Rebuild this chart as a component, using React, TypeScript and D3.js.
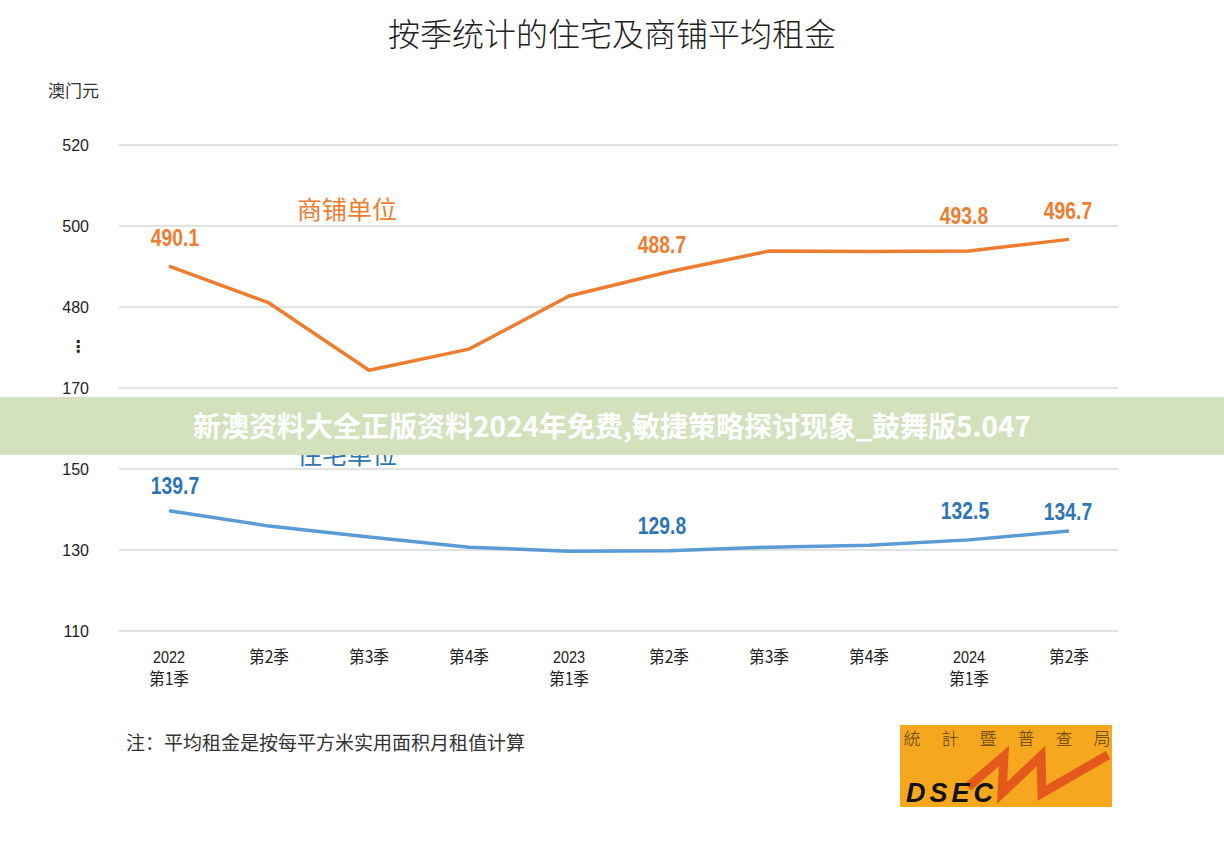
import React, { useEffect, useRef } from "react";
import * as d3 from "d3";

// quarters on the x axis (two-line labels)
const quarters: string[][] = [
  ["2022", "第1季"],
  ["第2季"],
  ["第3季"],
  ["第4季"],
  ["2023", "第1季"],
  ["第2季"],
  ["第3季"],
  ["第4季"],
  ["2024", "第1季"],
  ["第2季"],
];

const shopRent = [490.1, 481.0, 464.4, 469.6, 482.7, 488.7, 493.8, 493.7, 493.8, 496.7];
const homeRent = [139.7, 135.9, 133.2, 130.7, 129.7, 129.8, 130.7, 131.2, 132.5, 134.7];

// indices that carry a value label
const shopLabelIdx = [0, 5, 8, 9];
const homeLabelIdx = [0, 5, 8, 9];

const lowerTicks = [110, 130, 150, 170];
const upperTicks = [480, 500, 520];
// the axis is broken: shop values are shifted down by this amount
const AXIS_BREAK = 290;

const W = 1224;
const H = 852;
const CJK = '"Noto Sans CJK SC", "Noto Sans", sans-serif';
const SANS = '"Liberation Sans", Arial, sans-serif';

const App: React.FC = () => {
  const svgRef = useRef<SVGSVGElement | null>(null);

  useEffect(() => {
    if (!svgRef.current) return;
    const svg = d3.select(svgRef.current);
    svg.selectAll("*").remove();

    const x = d3
      .scaleBand<number>()
      .domain(d3.range(quarters.length))
      .range([119, 1119]);
    const xc = (i: number) => (x(i) || 0) + x.bandwidth() / 2;

    const y = d3.scaleLinear().domain([110, 230]).range([631, 145]);

    // condensed text: squeeze horizontally around its anchor
    const narrowText = (
      parent: d3.Selection<any, unknown, null, undefined>,
      tx: number,
      ty: number,
      sx: number,
    ) =>
      parent
        .append("g")
        .attr("transform", `translate(${tx},${ty}) scale(${sx},1)`)
        .append("text")
        .attr("text-anchor", "middle");

    svg.append("rect").attr("width", W).attr("height", H).attr("fill", "#fff");

    // title
    svg
      .append("text")
      .attr("x", 612)
      .attr("y", 46)
      .attr("text-anchor", "middle")
      .attr("font-family", CJK)
      .attr("font-weight", 300)
      .attr("font-size", 32)
      .attr("fill", "#222")
      .text("按季统计的住宅及商铺平均租金");

    svg
      .append("text")
      .attr("x", 48)
      .attr("y", 97)
      .attr("font-family", CJK)
      .attr("font-size", 17)
      .attr("fill", "#333")
      .text("澳门元");

    // gridlines + y labels
    const ticks = [
      ...lowerTicks.map((v) => ({ pos: v, label: String(v) })),
      ...upperTicks.map((v) => ({ pos: v - AXIS_BREAK, label: String(v) })),
    ];
    const grid = svg.append("g");
    grid
      .selectAll("line")
      .data(ticks)
      .join("line")
      .attr("x1", 119)
      .attr("x2", 1118)
      .attr("y1", (d) => y(d.pos))
      .attr("y2", (d) => y(d.pos))
      .attr("stroke", "#d9d9d9")
      .attr("stroke-width", 1.5);
    grid
      .selectAll("text")
      .data(ticks)
      .join("text")
      .attr("x", 89)
      .attr("y", (d) => y(d.pos) + 6)
      .attr("text-anchor", "end")
      .attr("font-family", SANS)
      .attr("font-size", 16)
      .attr("fill", "#222")
      .text((d) => d.label);

    // break marker
    svg
      .append("text")
      .attr("x", 78)
      .attr("y", (y(480 - AXIS_BREAK) + y(170)) / 2 + 4)
      .attr("text-anchor", "middle")
      .attr("font-family", "DejaVu Sans, sans-serif")
      .attr("font-weight", "bold")
      .attr("font-size", 16)
      .attr("fill", "#222")
      .text("⋮");

    // x labels
    const xl = svg.append("g");
    quarters.forEach((lines, i) => {
      lines.forEach((t, j) => {
        const isYear = /\d{4}/.test(t);
        narrowText(xl, xc(i), 663 + j * 22, isYear ? 0.85 : 0.92)
          .attr("font-family", isYear ? SANS : CJK)
          .attr("font-size", 17)
          .attr("fill", "#222")
          .text(t);
      });
    });

    const line = d3
      .line<number>()
      .x((_, i) => xc(i))
      .y((d) => y(d));

    svg
      .append("path")
      .attr("d", line(shopRent.map((v) => v - AXIS_BREAK)))
      .attr("fill", "none")
      .attr("stroke", "#ed7d31")
      .attr("stroke-width", 3.5)
      .attr("stroke-linejoin", "round");

    svg
      .append("path")
      .attr("d", line(homeRent))
      .attr("fill", "none")
      .attr("stroke", "#5b9bd5")
      .attr("stroke-width", 3.5)
      .attr("stroke-linejoin", "round");

    // value labels (dx, dy offsets from the point)
    const shopOff: Record<number, [number, number]> = { 0: [6, 20], 5: [-7, 19], 8: [-5, 27], 9: [-1, 20] };
    const homeOff: Record<number, [number, number]> = { 0: [6, 17], 5: [-7, 17], 8: [-4, 21], 9: [-1, 11] };
    const vl = svg.append("g");
    shopLabelIdx.forEach((i) => {
      const [dx, dy] = shopOff[i];
      narrowText(vl, xc(i) + dx, y(shopRent[i] - AXIS_BREAK) - dy, 0.84)
        .attr("font-family", SANS)
        .attr("font-weight", "bold")
        .attr("font-size", 23)
        .attr("fill", "#ed7d31")
        .text(shopRent[i].toFixed(1));
    });
    homeLabelIdx.forEach((i) => {
      const [dx, dy] = homeOff[i];
      narrowText(vl, xc(i) + dx, y(homeRent[i]) - dy, 0.84)
        .attr("font-family", SANS)
        .attr("font-weight", "bold")
        .attr("font-size", 23)
        .attr("fill", "#2e75b6")
        .text(homeRent[i].toFixed(1));
    });

    // series names
    svg
      .append("text")
      .attr("x", 297)
      .attr("y", 219)
      .attr("font-family", CJK)
      .attr("font-size", 25)
      .attr("fill", "#ed7d31")
      .text("商铺单位");
    svg
      .append("text")
      .attr("x", 297)
      .attr("y", 464)
      .attr("font-family", CJK)
      .attr("font-size", 25)
      .attr("fill", "#2e75b6")
      .text("住宅单位");

    // overlay banner
    svg
      .append("rect")
      .attr("x", 0)
      .attr("y", 397)
      .attr("width", W)
      .attr("height", 58)
      .attr("fill", "#d3e1bd");
    svg
      .append("text")
      .attr("x", 612)
      .attr("y", 437)
      .attr("text-anchor", "middle")
      .attr("font-family", CJK)
      .attr("font-weight", "bold")
      .attr("font-size", 28)
      .attr("fill", "#fff")
      .text("新澳资料大全正版资料2024年免费,敏捷策略探讨现象_鼓舞版5.047");

    // footnote
    svg
      .append("text")
      .attr("x", 126)
      .attr("y", 750)
      .attr("font-family", CJK)
      .attr("font-size", 19)
      .attr("fill", "#333")
      .text("注：平均租金是按每平方米实用面积月租值计算");

    // DSEC logo
    const logo = svg.append("g").attr("transform", "translate(900,725)");
    logo.append("rect").attr("width", 212).attr("height", 82).attr("fill", "#f5a71e");
    ["統", "計", "暨", "普", "查", "局"].forEach((c, i) => {
      logo
        .append("text")
        .attr("x", 12 + i * 38)
        .attr("y", 20)
        .attr("text-anchor", "middle")
        .attr("font-family", '"Noto Sans CJK TC", sans-serif')
        .attr("font-weight", 300)
        .attr("font-size", 17)
        .attr("fill", "#5a3a10")
        .text(c);
    });
    logo
      .append("polyline")
      .attr("points", "68,62 104,31 102,68 141,31 142,68 208,30")
      .attr("fill", "none")
      .attr("stroke", "#e4581c")
      .attr("stroke-width", 9)
      .attr("stroke-linejoin", "miter")
      .attr("stroke-miterlimit", 4);
    logo
      .append("text")
      .attr("x", 6)
      .attr("y", 77)
      .attr("font-family", SANS)
      .attr("font-weight", "bold")
      .attr("font-style", "italic")
      .attr("font-size", 27)
      .attr("letter-spacing", 4)
      .attr("fill", "#111")
      .text("DSEC");
  }, []);

  return (
    <svg
      ref={svgRef}
      width={W}
      height={H}
      style={{ position: "absolute", left: 0, top: 0, display: "block" }}
    />
  );
};

export default App;
